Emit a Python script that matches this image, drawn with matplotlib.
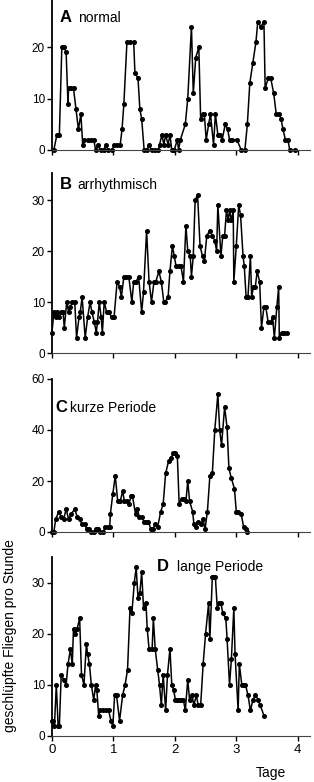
import matplotlib
matplotlib.use("Agg")
from matplotlib import pyplot as plt

plt.rcParams['font.family'] = ['Liberation Sans', 'DejaVu Sans']

# A normal
a_days = [0.03, 0.08, 0.12, 0.16, 0.20, 0.23, 0.26, 0.27, 0.31, 0.35,
          0.39, 0.43, 0.47, 0.50, 0.52, 0.58, 0.63, 0.68, 0.71, 0.75,
          0.79, 0.84, 0.88, 0.91, 0.98, 1.01, 1.06, 1.11, 1.14, 1.17,
          1.22, 1.27, 1.33, 1.35, 1.40, 1.43, 1.46, 1.50, 1.54, 1.58,
          1.62, 1.67, 1.73, 1.75, 1.79, 1.82, 1.85, 1.89, 1.92, 1.95,
          1.99, 2.04, 2.06, 2.09, 2.17, 2.21, 2.27, 2.30, 2.34, 2.39,
          2.42, 2.45, 2.48, 2.51, 2.55, 2.58, 2.63, 2.66, 2.70, 2.74,
          2.77, 2.82, 2.86, 2.89, 2.93, 3.01, 3.08, 3.14, 3.18, 3.22,
          3.27, 3.32, 3.35, 3.40, 3.45, 3.47, 3.52, 3.56, 3.61, 3.65,
          3.70, 3.73, 3.76, 3.80, 3.84, 3.87, 3.95]
a_flies = [0, 3, 3, 20, 20, 19, 9, 12, 12, 12,
           8, 4, 7, 1, 2, 2, 2, 2, 0, 1,
           0, 0, 1, 0, 0, 1, 1, 1, 4, 9,
           21, 21, 21, 15, 14, 8, 6, 0, 0, 1,
           0, 0, 0, 1, 3, 1, 3, 1, 3, 0,
           0, 2, 0, 2, 5, 10, 24, 11, 18, 20,
           6, 7, 7, 2, 5, 7, 1, 7, 3, 3,
           2, 5, 4, 2, 2, 2, 0, 0, 5, 13,
           17, 21, 25, 24, 25, 12, 14, 14, 11, 7,
           7, 6, 4, 2, 2, 0, 0]

# B arrhythmisch
b_days = [0.00, 0.03, 0.06, 0.08, 0.11, 0.15, 0.18, 0.20, 0.24, 0.27,
          0.30, 0.33, 0.37, 0.40, 0.44, 0.46, 0.49, 0.54, 0.58, 0.62,
          0.65, 0.69, 0.72, 0.74, 0.77, 0.80, 0.82, 0.85, 0.89, 0.93,
          0.97, 1.01, 1.06, 1.10, 1.13, 1.17, 1.21, 1.25, 1.30, 1.33,
          1.37, 1.41, 1.46, 1.49, 1.54, 1.58, 1.62, 1.66, 1.69, 1.74,
          1.78, 1.82, 1.84, 1.89, 1.92, 1.96, 1.99, 2.02, 2.06, 2.10,
          2.14, 2.18, 2.21, 2.25, 2.27, 2.30, 2.33, 2.37, 2.41, 2.45,
          2.48, 2.52, 2.57, 2.61, 2.65, 2.68, 2.70, 2.75, 2.78, 2.81,
          2.84, 2.87, 2.89, 2.92, 2.95, 2.96, 3.00, 3.04, 3.07, 3.11,
          3.13, 3.16, 3.19, 3.23, 3.25, 3.28, 3.31, 3.34, 3.38, 3.41,
          3.45, 3.48, 3.52, 3.56, 3.59, 3.62, 3.66, 3.69, 3.70, 3.74,
          3.78, 3.82]
b_flies = [4, 8, 7, 8, 7, 8, 8, 5, 10, 8,
           9, 10, 10, 3, 7, 8, 11, 3, 7, 10,
           8, 6, 4, 6, 10, 7, 4, 10, 8, 8,
           7, 7, 14, 13, 11, 15, 15, 15, 10, 14,
           14, 15, 8, 12, 24, 14, 10, 14, 14, 16,
           14, 10, 10, 11, 16, 21, 19, 17, 17, 17,
           14, 25, 20, 19, 15, 19, 30, 31, 21, 19,
           18, 23, 24, 23, 22, 20, 29, 19, 23, 23,
           28, 26, 28, 26, 28, 14, 21, 29, 27, 19,
           17, 11, 11, 19, 11, 13, 13, 16, 14, 5,
           9, 9, 6, 6, 7, 3, 9, 13, 3, 4,
           4, 4]

# C kurze Periode
c_days = [0.00, 0.03, 0.06, 0.11, 0.15, 0.19, 0.23, 0.27, 0.31, 0.37,
          0.41, 0.45, 0.49, 0.53, 0.57, 0.60, 0.64, 0.68, 0.72, 0.75,
          0.78, 0.83, 0.87, 0.91, 0.94, 0.95, 0.99, 1.03, 1.07, 1.11,
          1.15, 1.18, 1.22, 1.25, 1.29, 1.31, 1.36, 1.39, 1.42, 1.46,
          1.50, 1.53, 1.57, 1.61, 1.64, 1.68, 1.72, 1.77, 1.81, 1.85,
          1.90, 1.94, 1.97, 2.01, 2.04, 2.07, 2.11, 2.15, 2.18, 2.21,
          2.24, 2.29, 2.31, 2.34, 2.38, 2.42, 2.46, 2.49, 2.53, 2.57,
          2.61, 2.65, 2.70, 2.73, 2.76, 2.81, 2.85, 2.88, 2.92, 2.97,
          3.00, 3.03, 3.08, 3.12, 3.16, 3.18]
c_flies = [0, 0, 5, 8, 6, 5, 9, 5, 7, 9,
           6, 5, 3, 3, 1, 1, 0, 0, 1, 1,
           0, 0, 2, 2, 2, 7, 15, 22, 12, 12,
           16, 12, 12, 11, 14, 14, 7, 9, 6, 6,
           4, 4, 4, 1, 1, 3, 2, 8, 11, 23,
           28, 29, 31, 31, 30, 11, 13, 13, 12, 20,
           12, 8, 3, 2, 4, 3, 5, 1, 8, 22,
           23, 40, 54, 40, 34, 49, 41, 25, 21, 17,
           8, 8, 7, 2, 1, 0]

# D lange Periode
d_days = [0.00, 0.02, 0.04, 0.07, 0.10, 0.12, 0.15, 0.19, 0.23, 0.26,
          0.30, 0.33, 0.35, 0.38, 0.41, 0.45, 0.48, 0.52, 0.56, 0.58,
          0.61, 0.64, 0.68, 0.71, 0.73, 0.76, 0.78, 0.83, 0.88, 0.92,
          0.96, 0.99, 1.02, 1.05, 1.10, 1.15, 1.19, 1.23, 1.27, 1.30,
          1.34, 1.37, 1.40, 1.43, 1.46, 1.49, 1.53, 1.55, 1.58, 1.63,
          1.65, 1.68, 1.72, 1.75, 1.78, 1.81, 1.85, 1.88, 1.92, 1.95,
          1.98, 2.01, 2.04, 2.07, 2.10, 2.14, 2.17, 2.21, 2.24, 2.28,
          2.31, 2.35, 2.38, 2.42, 2.46, 2.50, 2.55, 2.57, 2.61, 2.64,
          2.66, 2.69, 2.72, 2.75, 2.78, 2.83, 2.85, 2.89, 2.92, 2.96,
          2.98, 3.03, 3.05, 3.09, 3.12, 3.15, 3.19, 3.23, 3.27, 3.31,
          3.36, 3.39, 3.45]
d_flies = [3, 3, 2, 10, 2, 2, 12, 11, 10, 14,
           17, 14, 21, 20, 21, 23, 12, 10, 18, 16,
           14, 10, 7, 10, 9, 4, 5, 5, 5, 5,
           3, 2, 8, 8, 3, 8, 10, 13, 25, 24,
           30, 33, 27, 28, 32, 25, 26, 21, 17, 17,
           23, 17, 13, 10, 6, 12, 5, 12, 17, 10,
           9, 7, 7, 7, 7, 7, 5, 11, 7, 8,
           6, 8, 6, 6, 14, 20, 26, 19, 31, 31,
           31, 25, 26, 26, 24, 23, 19, 10, 15, 25,
           16, 5, 14, 10, 10, 10, 8, 5, 7, 8,
           7, 6, 4]

panels = [
    (a_days, a_flies, (0, 29.2), [0, 10, 20]),
    (b_days, b_flies, (0, 35.3), [0, 10, 20, 30]),
    (c_days, c_flies, (0, 60), [0, 20, 40, 60]),
    (d_days, d_flies, (0, 35), [0, 10, 20, 30]),
]
# axes boxes in pixels: top, bottom
boxes = [(0, 150), (173, 353), (379, 532), (557, 736)]

W, H = 314, 782
fig = plt.figure(figsize=(W / 100, H / 100), dpi=100)

axes = []
for (xs, ys, ylim, yticks), (top, bot) in zip(panels, boxes):
    ax = fig.add_axes([52 / W, (H - bot) / H, 258 / W, (bot - top) / H])
    ax.plot(xs, ys, color='black', linewidth=1.1, marker='o',
            markersize=2.6, clip_on=False)
    ax.set_xlim(0, 4.2)
    ax.set_ylim(*ylim)
    ax.set_xticks([0, 1, 2, 3, 4])
    ax.set_yticks(yticks)
    ax.spines['top'].set_visible(False)
    ax.spines['right'].set_visible(False)
    ax.spines['left'].set_linewidth(1.3)
    ax.spines['bottom'].set_linewidth(0.8)
    ax.spines['bottom'].set_color('#444444')
    ax.tick_params(direction='out', length=3.5, width=1.0, pad=1.5,
                   labelsize=8.5, colors='black')
    axes.append(ax)

for ax in axes[:3]:
    ax.tick_params(axis='x', labelbottom=False)
axes[3].tick_params(axis='x', labelsize=9.5, pad=2)

# panel titles: letter x, baseline y, word offset
titles = [(60, 22, 18, 'A', 'normal'),
          (60, 189, 17, 'B', 'arrhythmisch'),
          (55, 412, 15, 'C', 'kurze Periode'),
          (157, 571, 20, 'D', 'lange Periode')]
for x, y, off, letter, word in titles:
    fig.text(x / W, 1 - y / H, letter, fontsize=12, fontweight='bold',
             va='baseline', ha='left')
    fig.text((x + off) / W, 1 - y / H, word, fontsize=10,
             va='baseline', ha='left')

fig.text(10 / W, 1 - 636 / H, 'geschlüpfte Fliegen pro Stunde',
         rotation=90, fontsize=10, ha='center', va='center')
fig.text(271 / W, 1 - 773 / H, 'Tage', fontsize=10, ha='center',
         va='center')

fig.savefig('out.png', dpi=100)
